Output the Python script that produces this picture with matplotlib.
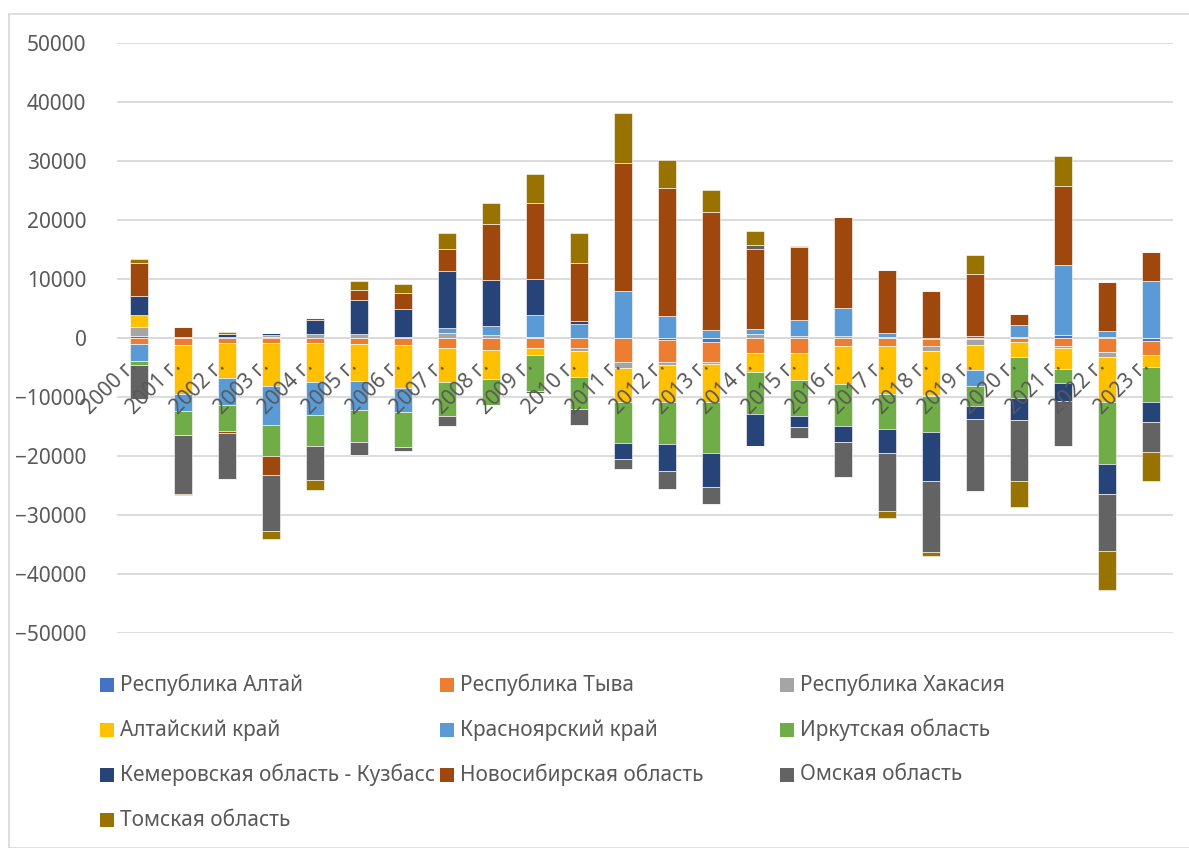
import numpy as np
import matplotlib
matplotlib.use("Agg")
import matplotlib.pyplot as plt
import matplotlib.transforms as mtransforms
from matplotlib.patches import Rectangle

plt.rcParams['font.family'] = ['Noto Sans', 'DejaVu Sans']

years = [f"{y} г." for y in range(2000, 2024)]

series_names = [
    'Республика Алтай', 'Республика Тыва', 'Республика Хакасия',
    'Алтайский край', 'Красноярский край', 'Иркутская область',
    'Кемеровская область - Кузбасс', 'Новосибирская область',
    'Омская область', 'Томская область',
]
colors = ['#4472C4', '#ED7D31', '#A5A5A5', '#FFC000', '#5B9BD5',
          '#70AD47', '#264478', '#9E480E', '#636363', '#997300']

altai_rep = [280, 0, 0, 150, 0, 0, 0, 0, 0, 0, 0, 0,
             -340, -730, 0, 0, 0, 0, -230, 400, 200, 510, 200, -510]
tyva = [-960, -1240, -790, -790, -850, -960, -1190, -1700, -2030, -1700, -1700, -4070,
        -3670, -3390, -2600, -2600, -1360, -1360, -1070, -230, -620, -1300, -2370, -2430]
khakasia = [1500, 100, 250, 400, 620, 600, 230, 790, 510, 200, -560, -1020,
            -560, -340, 620, 340, 280, 230, -900, -960, 0, -450, -790, 0]
altai_krai = [2150, -8190, -5990, -7340, -6670, -6330, -7340, -5820, -4920, -1240, -4290, -5760,
              -6210, -6440, -3160, -4520, -6440, -8080, -7400, -4240, -2540, -3560, -7740, -1920]
krasnoyarsk = [-3000, -2940, -4630, -6550, -5480, -4970, -3950, 900, 1580, 3700, 2370, 7970,
               3790, 1360, 900, 2710, 4800, 680, -280, -2660, 1920, 11870, 1020, 9600]
irkutsk = [-560, -4070, -4350, -5250, -5250, -5420, -6050, -5710, -4410, -5990, -5540, -6890,
           -7230, -8590, -7180, -6100, -7180, -5990, -5990, -3390, -7010, -2260, -10400, -5990]
kemerovo = [3160, 150, 500, 300, 2490, 5820, 4630, 9720, 7680, 6050, 450, -2770,
            -4520, -5820, -5310, -1920, -2600, -4120, -8360, -2320, -3730, -3110, -5140, -3450]
novosibirsk = [5600, 1530, -400, -3220, 340, 1640, 2830, 3730, 9490, 12880, 9940, 21750,
               21580, 19940, 13620, 12430, 15370, 10620, 7970, 10400, 2030, 13450, 8300, 4920]
omsk = [-5880, -10050, -7740, -9600, -5880, -2150, -620, -1640, 0, -340, -2660, -1750,
        -3050, -2830, 680, -1750, -5930, -9830, -12090, -12150, -10400, -7570, -9720, -5080]
tomsk = [620, -170, 300, -1240, -1580, 1580, 1410, 2660, 3560, 4970, 5030, 8400,
         4800, 3790, 2260, 110, 0, -1070, -620, 3220, -4350, 5030, -6500, -4920]

all_series = [altai_rep, tyva, khakasia, altai_krai, krasnoyarsk,
              irkutsk, kemerovo, novosibirsk, omsk, tomsk]

W, H = 1189, 848
fig = plt.figure(figsize=(W / 100, H / 100), dpi=100)
ax = fig.add_axes([117 / W, 1 - 633 / H, 1056 / W, 590 / H])

# chart border like Excel
fig.patches.append(Rectangle((9 / W, 0), 1, 1 - 14 / H, transform=fig.transFigure,
                             fill=False, edgecolor='#D9D9D9', linewidth=1.2))

x = np.arange(len(years))
pos_bottom = np.zeros(len(years))
neg_bottom = np.zeros(len(years))
for vals, c in zip(all_series, colors):
    v = np.array(vals, dtype=float)
    pos = np.where(v > 0, v, 0)
    neg = np.where(v < 0, v, 0)
    ax.bar(x, pos, bottom=pos_bottom, width=0.4, color=c, edgecolor='white', linewidth=0.4, zorder=3)
    ax.bar(x, neg, bottom=neg_bottom, width=0.4, color=c, edgecolor='white', linewidth=0.4, zorder=3)
    pos_bottom += pos
    neg_bottom += neg

ax.set_xlim(-0.5, len(years) - 0.5)
ax.set_ylim(-50000, 50000)
ax.set_yticks(np.arange(-50000, 50001, 10000))
ax.tick_params(axis='y', length=0, pad=22, labelsize=15, labelcolor='#595959')
ax.set_xticks([])
ax.grid(axis='y', color='#D9D9D9', linewidth=1.3, zorder=0)
ax.axhline(0, color='#D9D9D9', linewidth=1.3, zorder=1)
for s in ax.spines.values():
    s.set_visible(False)

# category labels at the zero line, rotated like Excel
offset = mtransforms.ScaledTranslation(-12 / 100, -18 / 100, fig.dpi_scale_trans)
for i, lab in enumerate(years):
    ax.text(i, 0, lab, rotation=45, rotation_mode='anchor', ha='right', va='top',
            fontsize=15, color='#595959', transform=ax.transData + offset, zorder=4)

# legend laid out row by row in three columns
col_x = [100, 440, 780]
row_y = [685, 730, 775, 820]
for k, (name, c) in enumerate(zip(series_names, colors)):
    r, cidx = divmod(k, 3)
    px, py = col_x[cidx], row_y[r]
    fig.patches.append(Rectangle((px / W, 1 - (py + 7) / H), 14 / W, 14 / H,
                                 transform=fig.transFigure, facecolor=c, edgecolor='none'))
    fig.text((px + 20) / W, 1 - py / H, name, fontsize=15, color='#595959',
             va='center', ha='left')

fig.savefig('out.png', dpi=100, facecolor='white')
